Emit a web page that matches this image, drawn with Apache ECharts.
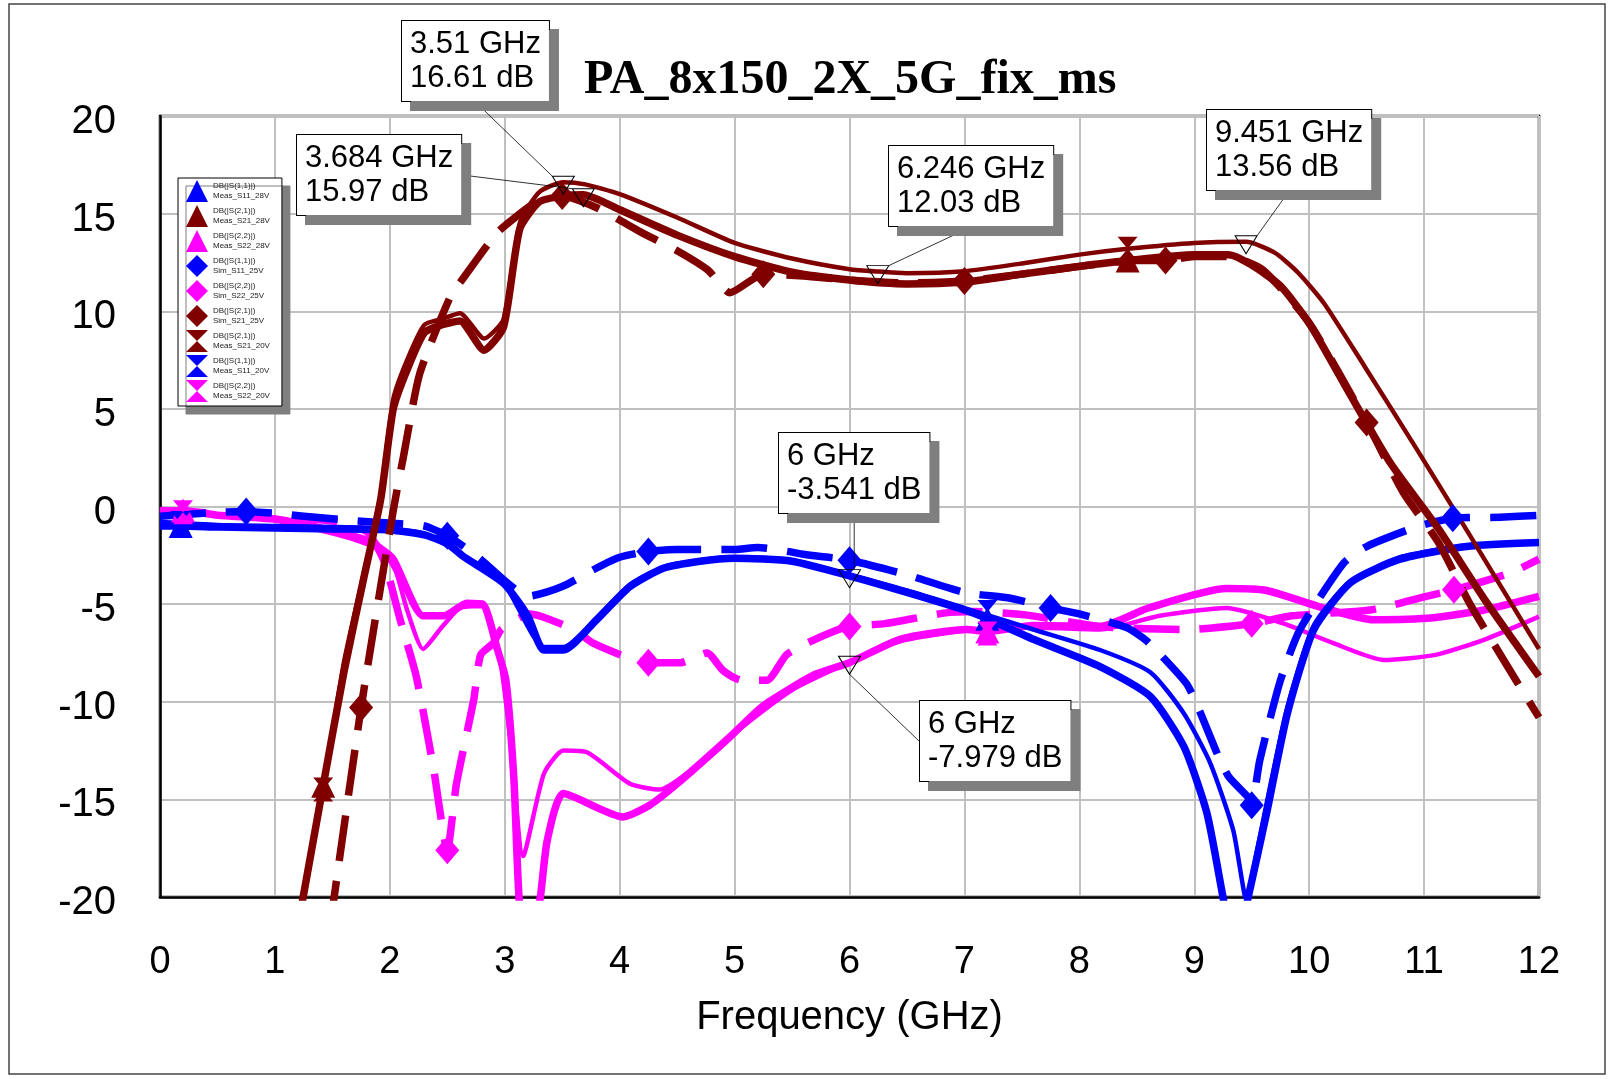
<!DOCTYPE html>
<html>
<head>
<meta charset="utf-8">
<title>PA_8x150_2X_5G_fix_ms</title>
<script src="https://cdn.jsdelivr.net/npm/echarts@6/dist/echarts.min.js"></script>
<style>
  html, body { margin: 0; padding: 0; background: #fff; }
  #chart { width: 1617px; height: 1079px; }
</style>
</head>
<body>
<div id="chart"></div>
<script>
// frequency (GHz), magnitude (dB)
const s11Meas28 = [[0,-1.0],[0.18,-1.0],[0.5,-1.05],[1.0,-1.1],[1.5,-1.15],[2.0,-1.2],[2.3,-1.45],[2.5,-1.9],[2.64,-2.56],[2.99,-3.93],[3.2,-5.6],[3.34,-7.35],[3.51,-7.35],[3.8,-5.8],[4.09,-4.1],[4.38,-3.16],[4.7,-2.8],[5.0,-2.65],[5.5,-2.8],[6.0,-3.55],[6.5,-4.4],[7.0,-5.3],[7.2,-5.75],[7.6,-6.8],[8.18,-8.2],[8.62,-9.74],[8.91,-12.3],[9.11,-15.7],[9.25,-20],[9.35,-23],[9.47,-20],[9.63,-15.7],[9.81,-10.6],[10.04,-6.3],[10.36,-3.9],[10.79,-2.7],[11.37,-2.05],[12.0,-1.85]];
const s11Meas20 = [[0,-0.8],[0.5,-0.95],[1.0,-1.0],[1.5,-1.05],[2.0,-1.15],[2.3,-1.4],[2.64,-2.5],[2.99,-3.9],[3.34,-7.2],[3.51,-7.2],[3.8,-5.7],[4.09,-4.0],[4.38,-3.1],[4.7,-2.75],[5.0,-2.6],[5.5,-2.75],[6.0,-3.5],[6.5,-4.3],[7.0,-5.2],[7.6,-6.3],[8.18,-7.35],[8.62,-8.5],[8.91,-10.6],[9.14,-13.15],[9.34,-16.6],[9.46,-20.3],[9.5,-19.0],[9.63,-15.2],[9.81,-10.3],[10.04,-6.1],[10.36,-3.8],[10.79,-2.6],[11.37,-2.0],[12.0,-1.8]];
const s11Sim25 = [[0,-0.5],[0.25,-0.4],[0.5,-0.3],[0.75,-0.25],[1.0,-0.35],[1.25,-0.5],[1.75,-0.75],[2.0,-0.85],[2.3,-1.0],[2.5,-1.5],[2.75,-2.5],[3.0,-3.8],[3.2,-4.6],[3.5,-4.1],[3.8,-3.15],[4.0,-2.6],[4.25,-2.3],[4.5,-2.2],[5.0,-2.2],[5.2,-2.1],[5.66,-2.5],[6.0,-2.75],[6.5,-3.5],[7.0,-4.4],[7.4,-4.7],[7.75,-5.2],[8.0,-5.5],[8.41,-6.2],[8.59,-6.9],[8.93,-9.05],[9.02,-10.1],[9.21,-12.8],[9.3,-13.84],[9.47,-14.9],[9.5,-15.3],[9.57,-13.0],[9.75,-8.9],[9.92,-6.3],[10.3,-2.9],[10.5,-2.05],[10.94,-1.03],[11.25,-0.6],[11.66,-0.55],[12.0,-0.45]];

const s21Meas28 = [[1.2,-21.5],[1.42,-14.3],[1.6,-8.5],[1.77,-3.75],[1.92,0.35],[2.03,5.0],[2.15,7.0],[2.3,8.9],[2.45,9.3],[2.61,9.5],[2.82,8.0],[2.99,9.2],[3.13,14.2],[3.3,15.6],[3.5,15.9],[3.684,15.97],[4.0,15.2],[4.5,13.9],[5.0,12.8],[5.5,12.0],[6.0,11.6],[6.5,11.4],[7.0,11.5],[7.5,11.9],[8.0,12.3],[8.42,12.6],[9.0,12.9],[9.3,12.9],[9.49,12.4],[9.75,11.3],[10.01,9.3],[10.36,5.7],[10.71,2.2],[11.12,-1.1],[11.52,-4.7],[12.0,-8.7]];
const s21Meas20 = [[1.22,-21.0],[1.42,-14.5],[1.6,-8.0],[1.77,-3.5],[1.92,0.6],[2.03,5.5],[2.15,7.5],[2.3,9.3],[2.45,9.6],[2.61,9.9],[2.82,8.6],[2.99,9.6],[3.13,14.5],[3.3,16.1],[3.51,16.61],[3.7,16.5],[4.0,16.0],[4.5,14.8],[5.0,13.5],[5.5,12.7],[6.0,12.15],[6.246,12.03],[6.5,11.95],[7.0,12.05],[7.5,12.45],[8.0,12.9],[8.42,13.2],[9.0,13.5],[9.451,13.56],[9.7,13.0],[9.9,12.0],[10.13,10.4],[10.48,7.2],[10.94,2.9],[11.38,-1.3],[12.0,-7.3]];
const s21Sim25 = [[1.48,-21.5],[1.75,-10.3],[2.03,-0.2],[2.12,2.6],[2.26,6.8],[2.53,10.8],[2.64,11.7],[2.93,14.0],[3.11,14.9],[3.25,15.5],[3.5,15.9],[3.8,15.3],[4.2,14.0],[4.5,13.1],[4.77,12.1],[4.96,10.95],[5.25,11.9],[5.6,11.8],[6.0,11.6],[6.5,11.45],[7.0,11.55],[7.5,11.9],[8.0,12.3],[8.5,12.6],[8.75,12.6],[9.0,12.8],[9.3,12.8],[9.6,12.1],[10.0,9.4],[10.5,4.3],[10.82,0.7],[11.12,-1.8],[11.4,-5.0],[11.81,-9.0],[12.0,-10.8]];

const s22Meas28 = [[0,-0.3],[0.2,-0.2],[0.5,-0.45],[1.04,-0.68],[1.6,-1.45],[1.89,-2.05],[2.03,-2.7],[2.29,-5.6],[2.47,-5.6],[2.67,-4.95],[2.81,-5.0],[2.93,-7.2],[3.01,-8.9],[3.08,-14.0],[3.13,-20.5],[3.22,-23.0],[3.31,-20.0],[3.37,-17.1],[3.51,-14.7],[4.03,-15.9],[4.26,-15.3],[4.5,-14.2],[4.96,-11.8],[5.25,-10.2],[5.7,-8.6],[6.0,-8.0],[6.44,-6.8],[7.02,-6.3],[7.2,-6.4],[7.6,-6.1],[8.18,-6.15],[8.6,-5.2],[9.28,-4.2],[9.63,-4.3],[10.07,-5.1],[10.56,-5.8],[11.08,-5.7],[11.52,-5.3],[12.0,-4.6]];
const s22Meas20 = [[0,-0.3],[0.5,-0.4],[1.04,-0.6],[1.6,-1.3],[1.89,-1.9],[2.05,-3.3],[2.15,-5.3],[2.29,-7.3],[2.45,-6.2],[2.61,-5.2],[2.81,-5.1],[2.95,-7.5],[3.05,-12.0],[3.16,-17.9],[3.34,-13.7],[3.51,-12.5],[3.72,-12.6],[4.09,-14.2],[4.35,-14.5],[4.6,-13.6],[5.0,-11.6],[5.5,-9.4],[6.0,-7.979],[6.44,-6.9],[7.02,-6.35],[7.6,-6.2],[8.18,-6.3],[8.7,-5.6],[9.28,-5.2],[9.78,-6.0],[10.21,-7.0],[10.65,-7.86],[11.1,-7.6],[11.52,-6.83],[12.0,-5.64]];
const s22Sim25 = [[0,-0.2],[0.5,-0.35],[0.75,-0.4],[1.0,-0.5],[1.5,-0.75],[1.8,-1.3],[1.95,-2.8],[2.09,-5.8],[2.23,-8.7],[2.38,-13.4],[2.5,-17.6],[2.58,-14.2],[2.73,-9.9],[2.79,-7.6],[2.9,-7.0],[2.97,-6.3],[3.22,-5.5],[3.6,-6.3],[3.77,-7.0],[4.12,-7.86],[4.25,-8.0],[4.53,-8.0],[4.76,-7.5],[4.9,-8.4],[5.06,-8.9],[5.28,-8.9],[5.45,-7.6],[5.63,-7.0],[5.86,-6.4],[6.0,-6.15],[6.31,-6.0],[6.82,-5.46],[7.08,-5.38],[7.53,-5.55],[8.18,-6.15],[8.93,-6.3],[9.5,-6.0],[9.85,-5.6],[10.53,-5.3],[11.02,-4.6],[11.26,-4.27],[11.75,-3.4],[12.0,-2.7]];

// trace symbols seen on the curves
const s11Meas28Marks = [[0.18,-1.0],[7.2,-5.75]];
const s21Meas28Marks = [[1.42,-14.3],[8.42,12.6]];
const s22Meas28Marks = [[0.2,-0.2],[7.2,-6.4]];
const s11SimMarks = [[0.75,-0.25],[2.5,-1.5],[4.25,-2.3],[6.0,-2.75],[7.75,-5.2],[9.5,-15.3],[11.25,-0.6]];
const s22SimMarks = [[2.5,-17.6],[4.25,-8.0],[6.0,-6.15],[9.5,-6.0],[11.26,-4.27]];
const s21SimMarks = [[1.75,-10.3],[3.5,15.9],[5.25,11.9],[7.0,11.55],[8.75,12.6],[10.5,4.3]];
const s21Meas20Marks = [[1.42,-14.5],[8.42,13.2]];
const s11Meas20Marks = [[0.18,-0.85],[7.2,-5.4]];
const s22Meas20Marks = [[0.2,-0.3],[7.2,-6.5]];

// marker readouts
const calloutFreq = [3.51, 3.684, 6.246, 9.451, 6, 6];
const calloutDb = [16.61, 15.97, 12.03, 13.56, -3.541, -7.979];
const calloutBox = [[402,21],[297,135],[889,146],[1207,110],[779,433],[920,701]];

const BLUE = '#0000ff', RED = '#800000', MAG = '#ff00ff';
const HOURGLASS = 'path://M0,0L10,0L5,5L10,10L0,10L5,5Z';
const THICK = 7.5, THIN = 4.5;

// legend rows: name, measurement, icon
const legendRows = [
  ['Meas_S11_28V', 'DB(|S(1,1)|)', 'triangle'],
  ['Meas_S21_28V', 'DB(|S(2,1)|)', 'triangle'],
  ['Meas_S22_28V', 'DB(|S(2,2)|)', 'triangle'],
  ['Sim_S11_25V', 'DB(|S(1,1)|)', 'diamond'],
  ['Sim_S22_25V', 'DB(|S(2,2)|)', 'diamond'],
  ['Sim_S21_25V', 'DB(|S(2,1)|)', 'diamond'],
  ['Meas_S21_20V', 'DB(|S(2,1)|)', HOURGLASS],
  ['Meas_S11_20V', 'DB(|S(1,1)|)', HOURGLASS],
  ['Meas_S22_20V', 'DB(|S(2,2)|)', HOURGLASS]
];
const legendTitle = {};
legendRows.forEach(r => { legendTitle[r[0]] = r[1]; });

function trace(name, data, color, width, dashed) {
  return {
    name: name, type: 'line', data: data, symbol: 'none',
    smooth: 0.2, clip: true,
    lineStyle: { color: color, width: width, type: dashed ? [46, 20] : 'solid', cap: 'butt', join: 'round' },
    itemStyle: { color: color }, emphasis: { disabled: true }, z: 3
  };
}
function marks(name, data, color, symbol, size) {
  return {
    name: name, type: 'scatter', data: data, symbol: symbol, symbolSize: size,
    itemStyle: { color: color, opacity: 1 }, emphasis: { disabled: true }, clip: true, z: 4
  };
}

const chart = echarts.init(document.getElementById('chart'));
chart.setOption({
  animation: false,
  backgroundColor: '#fff',
  title: {
    text: 'PA_8x150_2X_5G_fix_ms', left: 584, top: 57, padding: 0,
    textStyle: { fontFamily: 'Liberation Serif', fontWeight: 'bold', fontSize: 48, color: '#000' }
  },
  graphic: [
    { type: 'rect', shape: { x: 9, y: 4, width: 1596, height: 1070 },
      style: { fill: 'none', stroke: '#444', lineWidth: 1.5 }, z: -1 }
  ],
  grid: { left: 160, right: 78, top: 116, bottom: 182, show: true, borderColor: '#000', borderWidth: 2.5, backgroundColor: '#fff' },
  legend: {
    orient: 'vertical', left: 178, top: 178, itemWidth: 22, itemHeight: 22, itemGap: 3,
    padding: [2, 12, 4, 8], backgroundColor: '#fff', borderColor: '#000', borderWidth: 1,
    shadowColor: '#7f7f7f', shadowOffsetX: 8, shadowOffsetY: 8, shadowBlur: 0,
    selectedMode: false,
    data: legendRows.map(r => ({ name: r[0], icon: r[2] })),
    formatter: name => legendTitle[name] + '\n' + name,
    textStyle: { fontFamily: 'Liberation Sans', fontSize: 8, lineHeight: 10, color: '#222' }
  },
  xAxis: {
    type: 'value', min: 0, max: 12, interval: 1,
    name: 'Frequency (GHz)', nameLocation: 'middle', nameGap: 101,
    nameTextStyle: { fontFamily: 'Liberation Sans', fontSize: 40, color: '#000' },
    axisLine: { show: true, onZero: false, lineStyle: { color: '#000', width: 2.5 } },
    axisTick: { show: false },
    splitLine: { show: true, lineStyle: { color: '#c0c0c0', width: 2 } },
    axisLabel: { fontFamily: 'Liberation Sans', fontSize: 38, color: '#000', margin: 47 }
  },
  yAxis: {
    type: 'value', min: -20, max: 20, interval: 5,
    axisLine: { show: true, onZero: false, lineStyle: { color: '#000', width: 2.5 } },
    axisTick: { show: false },
    splitLine: { show: true, lineStyle: { color: '#c0c0c0', width: 2 } },
    axisLabel: {
      color: '#000', margin: 44, formatter: '{v|{value}}',
      rich: { v: { fontFamily: 'Liberation Sans', fontSize: 40, color: '#000', padding: [12, 0, 0, 0] } }
    }
  },
  series: [
    trace('Meas_S22_20V', s22Meas20, MAG, THIN, false),
    trace('Meas_S22_28V', s22Meas28, MAG, THICK, false),
    trace('Sim_S22_25V', s22Sim25, MAG, THICK, true),
    trace('Meas_S11_20V', s11Meas20, BLUE, THIN, false),
    trace('Meas_S11_28V', s11Meas28, BLUE, THICK, false),
    trace('Sim_S11_25V', s11Sim25, BLUE, THICK, true),
    trace('Meas_S21_20V', s21Meas20, RED, THIN, false),
    trace('Meas_S21_28V', s21Meas28, RED, THICK, false),
    trace('Sim_S21_25V', s21Sim25, RED, THICK, true),
    marks('Meas_S11_28V', s11Meas28Marks, BLUE, 'triangle', 24),
    marks('Meas_S21_28V', s21Meas28Marks, RED, 'triangle', 24),
    marks('Meas_S22_28V', s22Meas28Marks, MAG, 'triangle', 24),
    marks('Sim_S11_25V', s11SimMarks, BLUE, 'diamond', [24, 28]),
    marks('Sim_S22_25V', s22SimMarks, MAG, 'diamond', [24, 28]),
    marks('Sim_S21_25V', s21SimMarks, RED, 'diamond', [24, 28]),
    marks('Meas_S21_20V', s21Meas20Marks, RED, HOURGLASS, [20, 24]),
    marks('Meas_S11_20V', s11Meas20Marks, BLUE, HOURGLASS, [20, 24]),
    marks('Meas_S22_20V', s22Meas20Marks, MAG, HOURGLASS, [20, 24]),
    {
      name: 'markers', type: 'scatter', z: 10, clip: false,
      data: calloutFreq.map((f, i) => [f, calloutDb[i]]),
      symbol: 'triangle', symbolRotate: 180, symbolSize: [22, 18], symbolOffset: [0, 3],
      itemStyle: { color: 'rgba(255,255,255,0)', borderColor: '#000', borderWidth: 1, opacity: 1 },
      emphasis: { disabled: true },
      label: {
        show: true, opacity: 1,
        formatter: p => p.value[0] + ' GHz\n' + p.value[1] + ' dB',
        fontFamily: 'Liberation Sans', fontSize: 31, lineHeight: 34, color: '#000',
        backgroundColor: '#fff', borderColor: '#000', borderWidth: 1, padding: [6, 8, 6, 8],
        shadowColor: '#7f7f7f', shadowOffsetX: 9, shadowOffsetY: 9, shadowBlur: 0
      },
      labelLayout: p => ({ x: calloutBox[p.dataIndex][0], y: calloutBox[p.dataIndex][1], align: 'left', verticalAlign: 'top' }),
      labelLine: { show: true, lineStyle: { color: '#000', width: 0.8 } }
    }
  ]
});
</script>
</body>
</html>
